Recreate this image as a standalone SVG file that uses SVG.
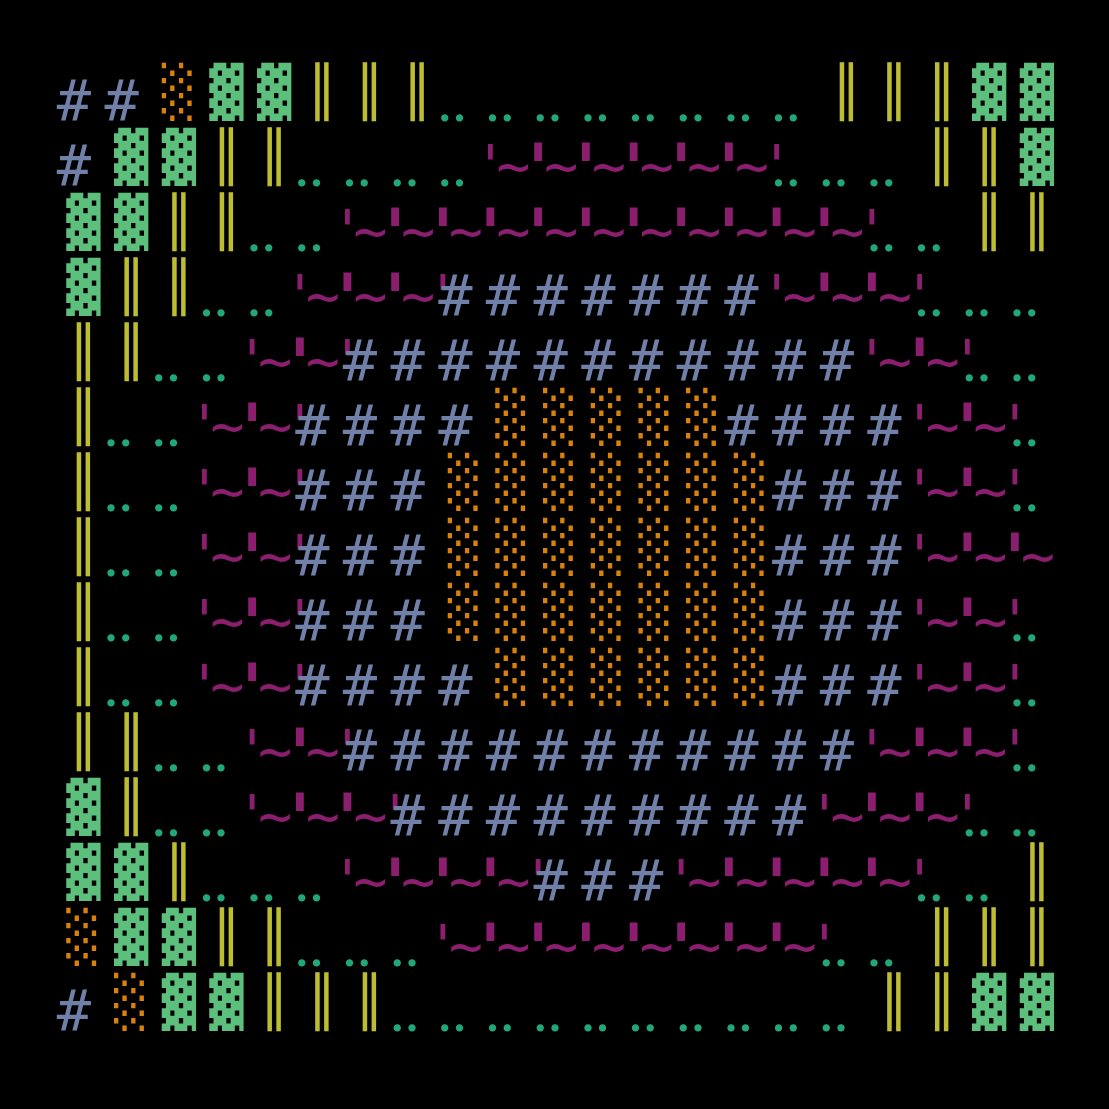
<svg xmlns="http://www.w3.org/2000/svg" width="1109" height="1109" viewBox="0 0 1109 1109">
<style>
text { font-family: "DejaVu Sans Mono", monospace; font-size: 57px; text-anchor: middle; }
.h { fill: #7080a8; }
.g { fill: #5dbf7c; }
.o { fill: #d9820b; }
.y { fill: #bdbd33; }
.d { fill: #22a878; font-family: "Liberation Serif", serif; font-size: 62px; }
.p { fill: #8b1e6e; }
.tk { stroke: #8b1e6e; stroke-width: 3px; }
.blk { transform: scale(1, 0.873); }
</style>
<rect width="1109" height="1109" fill="#000"/>
<g id="row-00" transform="translate(0 121)">
<text class="h" x="73.9 121.6" y="0">##</text>
<text class="o blk" x="178.8" y="-13.4">░</text>
<text class="g blk" x="226.4 274.1" y="-13.4">▓▓</text>
<text class="y blk" x="321.8 369.5 417.2" y="-13.4">║║║</text>
<text class="d" x="444.8 459.5 492.5 507.2 540.2 554.9 587.9 602.6 635.6 650.3 683.2 697.9 730.9 745.6 778.6 793.3" y="0">................</text>
<text class="y blk" x="846.3 894 941.6" y="-13.4">║║║</text>
<text class="g blk" x="989.3 1037" y="-13.4">▓▓</text>
</g>
<g id="row-01" transform="translate(0 186)">
<text class="h" x="73.9" y="0">#</text>
<text class="g blk" x="131.1 178.8" y="-13.4">▓▓</text>
<text class="y blk" x="226.4 274.1" y="-13.4">║║</text>
<text class="d" x="301.8 316.5 349.5 364.2 397.2 411.9 444.8 459.5" y="0">........</text>
<text class="p" x="490.5 513.5 538.2 561.2 585.9 608.9 633.6 656.6 681.2 704.2 728.9 751.9 776.6" y="0">'~<tspan class="tk">'</tspan>~<tspan class="tk">'</tspan>~<tspan class="tk">'</tspan>~<tspan class="tk">'</tspan>~<tspan class="tk">'</tspan>~'</text>
<text class="d" x="778.6 793.3 826.3 841 874 888.7" y="0">......</text>
<text class="y blk" x="941.6 989.3" y="-13.4">║║</text>
<text class="g blk" x="1037" y="-13.4">▓</text>
</g>
<g id="row-02" transform="translate(0 251)">
<text class="g blk" x="83.4 131.1" y="-13.4">▓▓</text>
<text class="y blk" x="178.8 226.4" y="-13.4">║║</text>
<text class="d" x="254.1 268.8 301.8 316.5" y="0">....</text>
<text class="p" x="347.5 370.5 395.2 418.2 442.8 465.8 490.5 513.5 538.2 561.2 585.9 608.9 633.6 656.6 681.2 704.2 728.9 751.9 776.6 799.6 824.3 847.3 872" y="0">'~<tspan class="tk">'</tspan>~<tspan class="tk">'</tspan>~<tspan class="tk">'</tspan>~<tspan class="tk">'</tspan>~<tspan class="tk">'</tspan>~<tspan class="tk">'</tspan>~<tspan class="tk">'</tspan>~<tspan class="tk">'</tspan>~<tspan class="tk">'</tspan>~<tspan class="tk">'</tspan>~'</text>
<text class="d" x="874 888.7 921.6 936.3" y="0">....</text>
<text class="y blk" x="989.3 1037" y="-13.4">║║</text>
</g>
<g id="row-03" transform="translate(0 316)">
<text class="g blk" x="83.4" y="-13.4">▓</text>
<text class="y blk" x="131.1 178.8" y="-13.4">║║</text>
<text class="d" x="206.4 221.1 254.1 268.8" y="0">....</text>
<text class="p" x="299.8 322.8 347.5 370.5 395.2 418.2 442.8" y="0">'~<tspan class="tk">'</tspan>~<tspan class="tk">'</tspan>~'</text>
<text class="h" x="455.3 503 550.7 598.4 646.1 693.7 741.4" y="0">#######</text>
<text class="p" x="776.6 799.6 824.3 847.3 872 895 919.6" y="0">'~<tspan class="tk">'</tspan>~<tspan class="tk">'</tspan>~'</text>
<text class="d" x="921.6 936.3 969.3 984 1017 1031.7" y="0">......</text>
</g>
<g id="row-04" transform="translate(0 381)">
<text class="y blk" x="83.4 131.1" y="-13.4">║║</text>
<text class="d" x="158.8 173.5 206.4 221.1" y="0">....</text>
<text class="p" x="252.1 275.1 299.8 322.8 347.5" y="0">'~<tspan class="tk">'</tspan>~'</text>
<text class="h" x="360 407.7 455.3 503 550.7 598.4 646.1 693.7 741.4 789.1 836.8" y="0">###########</text>
<text class="p" x="872 895 919.6 942.6 967.3" y="0">'~<tspan class="tk">'</tspan>~'</text>
<text class="d" x="969.3 984 1017 1031.7" y="0">....</text>
</g>
<g id="row-05" transform="translate(0 446)">
<text class="y blk" x="83.4" y="-13.4">║</text>
<text class="d" x="111.1 125.8 158.8 173.5" y="0">....</text>
<text class="p" x="204.4 227.4 252.1 275.1 299.8" y="0">'~<tspan class="tk">'</tspan>~'</text>
<text class="h" x="312.3 360 407.7 455.3" y="0">####</text>
<text class="o blk" x="512.5 560.2 607.9 655.6 703.2" y="-13.4">░░░░░</text>
<text class="h" x="741.4 789.1 836.8 884.5" y="0">####</text>
<text class="p" x="919.6 942.6 967.3 990.3 1015" y="0">'~<tspan class="tk">'</tspan>~'</text>
<text class="d" x="1017 1031.7" y="0">..</text>
</g>
<g id="row-06" transform="translate(0 511)">
<text class="y blk" x="83.4" y="-13.4">║</text>
<text class="d" x="111.1 125.8 158.8 173.5" y="0">....</text>
<text class="p" x="204.4 227.4 252.1 275.1 299.8" y="0">'~<tspan class="tk">'</tspan>~'</text>
<text class="h" x="312.3 360 407.7" y="0">###</text>
<text class="o blk" x="464.8 512.5 560.2 607.9 655.6 703.2 750.9" y="-13.4">░░░░░░░</text>
<text class="h" x="789.1 836.8 884.5" y="0">###</text>
<text class="p" x="919.6 942.6 967.3 990.3 1015" y="0">'~<tspan class="tk">'</tspan>~'</text>
<text class="d" x="1017 1031.7" y="0">..</text>
</g>
<g id="row-07" transform="translate(0 576)">
<text class="y blk" x="83.4" y="-13.4">║</text>
<text class="d" x="111.1 125.8 158.8 173.5" y="0">....</text>
<text class="p" x="204.4 227.4 252.1 275.1 299.8" y="0">'~<tspan class="tk">'</tspan>~'</text>
<text class="h" x="312.3 360 407.7" y="0">###</text>
<text class="o blk" x="464.8 512.5 560.2 607.9 655.6 703.2 750.9" y="-13.4">░░░░░░░</text>
<text class="h" x="789.1 836.8 884.5" y="0">###</text>
<text class="p" x="919.6 942.6 967.3 990.3 1015 1038" y="0">'~<tspan class="tk">'</tspan>~<tspan class="tk">'</tspan>~</text>
</g>
<g id="row-08" transform="translate(0 641)">
<text class="y blk" x="83.4" y="-13.4">║</text>
<text class="d" x="111.1 125.8 158.8 173.5" y="0">....</text>
<text class="p" x="204.4 227.4 252.1 275.1 299.8" y="0">'~<tspan class="tk">'</tspan>~'</text>
<text class="h" x="312.3 360 407.7" y="0">###</text>
<text class="o blk" x="464.8 512.5 560.2 607.9 655.6 703.2 750.9" y="-13.4">░░░░░░░</text>
<text class="h" x="789.1 836.8 884.5" y="0">###</text>
<text class="p" x="919.6 942.6 967.3 990.3 1015" y="0">'~<tspan class="tk">'</tspan>~'</text>
<text class="d" x="1017 1031.7" y="0">..</text>
</g>
<g id="row-09" transform="translate(0 706)">
<text class="y blk" x="83.4" y="-13.4">║</text>
<text class="d" x="111.1 125.8 158.8 173.5" y="0">....</text>
<text class="p" x="204.4 227.4 252.1 275.1 299.8" y="0">'~<tspan class="tk">'</tspan>~'</text>
<text class="h" x="312.3 360 407.7 455.3" y="0">####</text>
<text class="o blk" x="512.5 560.2 607.9 655.6 703.2 750.9" y="-13.4">░░░░░░</text>
<text class="h" x="789.1 836.8 884.5" y="0">###</text>
<text class="p" x="919.6 942.6 967.3 990.3 1015" y="0">'~<tspan class="tk">'</tspan>~'</text>
<text class="d" x="1017 1031.7" y="0">..</text>
</g>
<g id="row-10" transform="translate(0 771)">
<text class="y blk" x="83.4 131.1" y="-13.4">║║</text>
<text class="d" x="158.8 173.5 206.4 221.1" y="0">....</text>
<text class="p" x="252.1 275.1 299.8 322.8 347.5" y="0">'~<tspan class="tk">'</tspan>~'</text>
<text class="h" x="360 407.7 455.3 503 550.7 598.4 646.1 693.7 741.4 789.1 836.8" y="0">###########</text>
<text class="p" x="872 895 919.6 942.6 967.3 990.3 1015" y="0">'~<tspan class="tk">'</tspan>~<tspan class="tk">'</tspan>~'</text>
<text class="d" x="1017 1031.7" y="0">..</text>
</g>
<g id="row-11" transform="translate(0 836)">
<text class="g blk" x="83.4" y="-13.4">▓</text>
<text class="y blk" x="131.1" y="-13.4">║</text>
<text class="d" x="158.8 173.5 206.4 221.1" y="0">....</text>
<text class="p" x="252.1 275.1 299.8 322.8 347.5 370.5 395.2" y="0">'~<tspan class="tk">'</tspan>~<tspan class="tk">'</tspan>~'</text>
<text class="h" x="407.7 455.3 503 550.7 598.4 646.1 693.7 741.4 789.1" y="0">#########</text>
<text class="p" x="824.3 847.3 872 895 919.6 942.6 967.3" y="0">'~<tspan class="tk">'</tspan>~<tspan class="tk">'</tspan>~'</text>
<text class="d" x="969.3 984 1017 1031.7" y="0">....</text>
</g>
<g id="row-12" transform="translate(0 901)">
<text class="g blk" x="83.4 131.1" y="-13.4">▓▓</text>
<text class="y blk" x="178.8" y="-13.4">║</text>
<text class="d" x="206.4 221.1 254.1 268.8 301.8 316.5" y="0">......</text>
<text class="p" x="347.5 370.5 395.2 418.2 442.8 465.8 490.5 513.5 538.2" y="0">'~<tspan class="tk">'</tspan>~<tspan class="tk">'</tspan>~<tspan class="tk">'</tspan>~'</text>
<text class="h" x="550.7 598.4 646.1" y="0">###</text>
<text class="p" x="681.2 704.2 728.9 751.9 776.6 799.6 824.3 847.3 872 895 919.6" y="0">'~<tspan class="tk">'</tspan>~<tspan class="tk">'</tspan>~<tspan class="tk">'</tspan>~<tspan class="tk">'</tspan>~'</text>
<text class="d" x="921.6 936.3 969.3 984" y="0">....</text>
<text class="y blk" x="1037" y="-13.4">║</text>
</g>
<g id="row-13" transform="translate(0 966)">
<text class="o blk" x="83.4" y="-13.4">░</text>
<text class="g blk" x="131.1 178.8" y="-13.4">▓▓</text>
<text class="y blk" x="226.4 274.1" y="-13.4">║║</text>
<text class="d" x="301.8 316.5 349.5 364.2 397.2 411.9" y="0">......</text>
<text class="p" x="442.8 465.8 490.5 513.5 538.2 561.2 585.9 608.9 633.6 656.6 681.2 704.2 728.9 751.9 776.6 799.6 824.3" y="0">'~<tspan class="tk">'</tspan>~<tspan class="tk">'</tspan>~<tspan class="tk">'</tspan>~<tspan class="tk">'</tspan>~<tspan class="tk">'</tspan>~<tspan class="tk">'</tspan>~<tspan class="tk">'</tspan>~'</text>
<text class="d" x="826.3 841 874 888.7" y="0">....</text>
<text class="y blk" x="941.6 989.3 1037" y="-13.4">║║║</text>
</g>
<g id="row-14" transform="translate(0 1031)">
<text class="h" x="73.9" y="0">#</text>
<text class="o blk" x="131.1" y="-13.4">░</text>
<text class="g blk" x="178.8 226.4" y="-13.4">▓▓</text>
<text class="y blk" x="274.1 321.8 369.5" y="-13.4">║║║</text>
<text class="d" x="397.2 411.9 444.8 459.5 492.5 507.2 540.2 554.9 587.9 602.6 635.6 650.3 683.2 697.9 730.9 745.6 778.6 793.3 826.3 841" y="0">....................</text>
<text class="y blk" x="894 941.6" y="-13.4">║║</text>
<text class="g blk" x="989.3 1037" y="-13.4">▓▓</text>
</g>
</svg>
